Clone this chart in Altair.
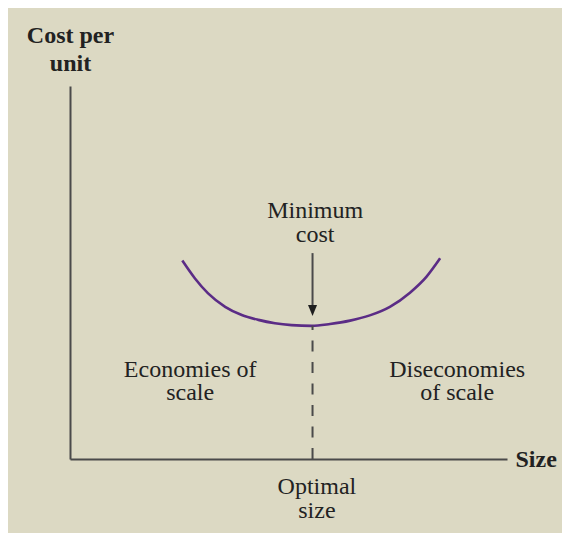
import altair as alt
import pandas as pd

# Cost curve (size units 0-100, cost units 0-100)
size_vals = [25.7, 28.6, 31.6, 35.5, 39.3, 43.1, 46.9, 50.7, 55.3, 59.5, 64.1, 68.6, 73.2, 77.8, 81.6, 84.7]
cost_vals = [53.2, 48.4, 44.4, 40.8, 38.6, 37.3, 36.4, 35.9, 35.7, 36.2, 37.1, 38.5, 40.8, 44.6, 48.9, 53.8]

optimal_size = 55.5
min_cost = 35.7
arrow_top = 55.2
arrow_head = 39.8

label_text = ["Minimum\ncost", "Economies of\nscale", "Diseconomies\nof scale", "Optimal\nsize"]
label_x = [56.1, 27.5, 88.6, 56.5]
label_y = [64.6, 22.1, 22.1, -9.4]

BG = "#dcd9c3"
INK = "#222222"
AXIS = "#4a4a4a"
PURPLE = "#5b2c86"
FONT = "Liberation Serif"

curve_df = pd.DataFrame({"size": size_vals, "cost": cost_vals})
opt_df = pd.DataFrame({"size": [optimal_size], "bottom": [0.0], "cost": [min_cost],
                       "top": [arrow_top], "head": [arrow_head]})
label_df = pd.DataFrame({"text": label_text, "x": label_x, "y": label_y})

xscale = alt.Scale(domain=[0, 100], nice=False, zero=False)
yscale = alt.Scale(domain=[0, 100], nice=False, zero=False)

xaxis = alt.Axis(labels=False, ticks=False, grid=False, domain=True,
                 domainColor=AXIS, domainWidth=2,
                 title="Size", titleFont=FONT, titleFontSize=24, titleFontWeight="bold",
                 titleColor=INK, titleAngle=0, titleAlign="left", titleBaseline="alphabetic",
                 titleX=445, titleY=7)
yaxis = alt.Axis(labels=False, ticks=False, grid=False, domain=True,
                 domainColor=AXIS, domainWidth=2,
                 title=["Cost per", "unit"], titleFont=FONT, titleFontSize=24,
                 titleFontWeight="bold", titleColor=INK, titleAngle=0,
                 titleAlign="center", titleBaseline="alphabetic",
                 titleX=0, titleY=-44, titleLineHeight=28)

curve = alt.Chart(curve_df).mark_line(color=PURPLE, strokeWidth=2.6, interpolate="monotone").encode(
    x=alt.X("size:Q", scale=xscale, axis=xaxis),
    y=alt.Y("cost:Q", scale=yscale, axis=yaxis),
)

dashed = alt.Chart(opt_df).mark_rule(color=AXIS, strokeWidth=2, strokeDash=[11, 10.5]).encode(
    x=alt.X("size:Q", scale=xscale),
    y=alt.Y("bottom:Q", scale=yscale),
    y2="cost:Q",
)

shaft = alt.Chart(opt_df).mark_rule(color=AXIS, strokeWidth=2).encode(
    x=alt.X("size:Q", scale=xscale),
    y=alt.Y("top:Q", scale=yscale),
    y2="head:Q",
)

head = alt.Chart(opt_df).mark_point(
    shape="M-0.82,-1L0.82,-1L0,1Z", size=121, filled=True, color="#1f1f1f", opacity=1
).encode(
    x=alt.X("size:Q", scale=xscale),
    y=alt.Y("head:Q", scale=yscale),
)

labels = alt.Chart(label_df).mark_text(
    font=FONT, fontSize=24, color=INK, align="center", baseline="alphabetic",
    lineBreak="\n", lineHeight=23.5
).encode(
    x=alt.X("x:Q", scale=xscale),
    y=alt.Y("y:Q", scale=yscale),
    text="text:N",
)

chart = alt.layer(curve, dashed, shaft, head, labels).properties(
    width=437, height=373,
    padding={"left": 62, "top": 78, "right": 55, "bottom": 74},
    autosize=alt.AutoSizeParams(type="none"),
    background=BG,
).configure_view(strokeWidth=0)

chart.save("out.html", embed_options={"renderer": "svg", "actions": False})
